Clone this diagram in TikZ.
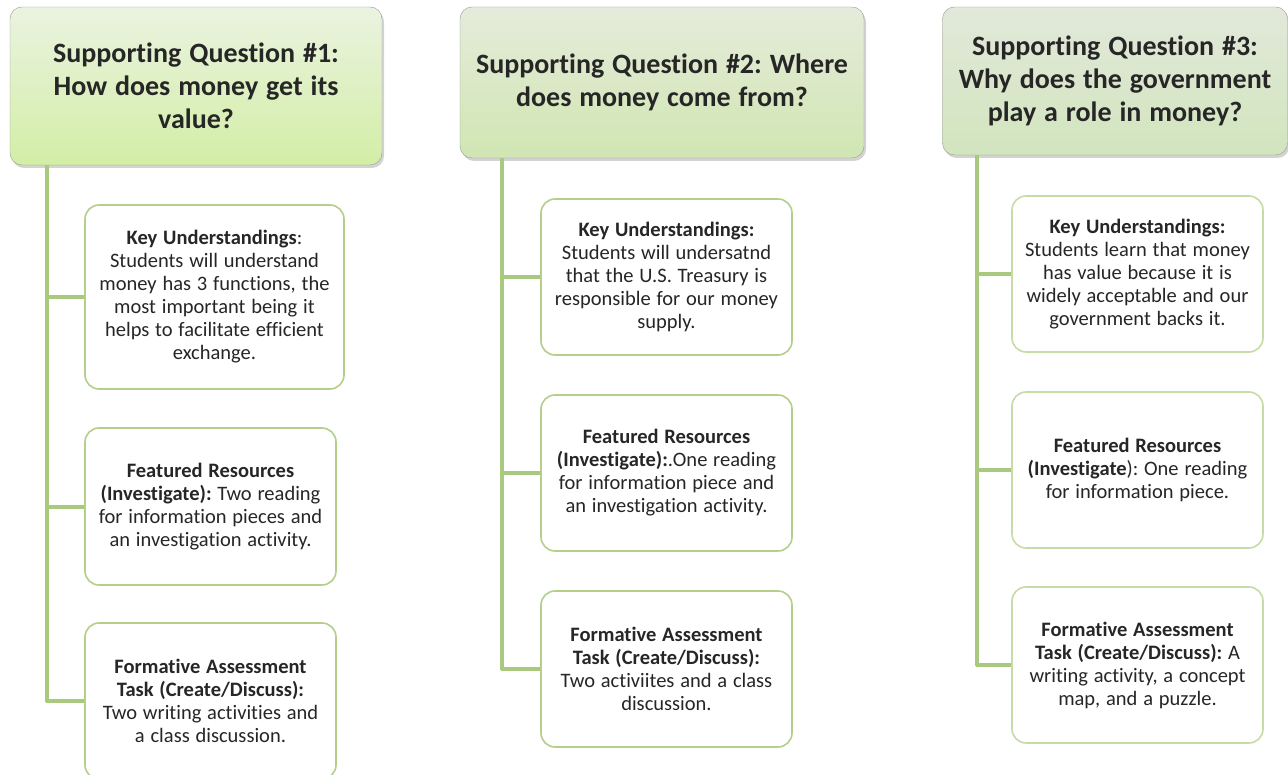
\documentclass[tikz,border=0pt]{standalone}
\usepackage{fontspec}
\setmainfont{Carlito}[Ligatures=NoCommon, WordSpace=1.25]
\usepackage{tikz}
\usetikzlibrary{shadows}
\definecolor{linkgreen}{HTML}{A9C97E}
\definecolor{boxgreen}{HTML}{B3CF8A}
\definecolor{inkgray}{HTML}{262626}
\definecolor{qonetop}{HTML}{EAF3E0}
\definecolor{qonebot}{HTML}{D3EEA6}
\definecolor{qtwotop}{HTML}{E5EBDB}
\definecolor{qtwobot}{HTML}{D0E6B2}
\definecolor{qthreetop}{HTML}{E2E8DA}
\definecolor{qthreebot}{HTML}{D2E5BE}
\frenchspacing

\begin{document}
\begin{tikzpicture}[x=1pt, y=-1pt,
    question/.style={draw=gray!80, rounded corners=12pt, align=center, inner sep=0pt,
        text=inkgray, font=\fontsize{28}{33}\selectfont\bfseries,
        drop shadow={shadow xshift=2pt, shadow yshift=-3pt, opacity=0.35}},
    task/.style={draw=boxgreen, line width=1.6pt, rounded corners=14pt, fill=white,
        align=center, inner sep=0pt, minimum width=251pt, minimum height=156pt,
        text=inkgray, font=\fontsize{20.5}{23}\selectfont},
    link/.style={linkgreen, line width=4pt, line join=round}]
    \useasboundingbox (0,0) rectangle (1288,775);
    % Question 1
    \node[question, top color=qonetop, bottom color=qonebot,
        minimum width=372pt, minimum height=158pt] (q1) at (196,86)
        {Supporting Question \#1:\\How does money get its\\value?};
    \coordinate (s1) at (47,165);
    \node[task, minimum width=259pt, minimum height=184pt] (k1) at (214.5,297)
        {\textbf{Key Understandings}:\\Students will understand\\money has 3 functions, the\\most important being it\\helps to facilitate efficient\\exchange.};
    \node[task, minimum height=157pt] (f1) at (210.5,506.5)
        {\textbf{Featured Resources}\\\textbf{(Investigate):} Two reading\\for information pieces and\\an investigation activity.};
    \node[task] (t1) at (210.5,701)
        {\textbf{Formative Assessment}\\\textbf{Task (Create/Discuss):}\\Two writing activities and\\a class discussion.};
    \draw[link] (s1) |- (k1.west);
    \draw[link] (s1) |- (f1.west);
    \draw[link] (s1) |- (t1.west);
    % Question 2
    \node[question, top color=qtwotop, bottom color=qtwobot,
        minimum width=404pt, minimum height=151pt] (q2) at (662,82.5)
        {Supporting Question \#2: Where\\does money come from?};
    \coordinate (s2) at (502,158);
    \node[task] (k2) at (666.5,277)
        {\textbf{Key Understandings:}\\Students will undersatnd\\that the U.S. Treasury is\\responsible for our money\\supply.};
    \node[task] (f2) at (666.5,473)
        {\textbf{Featured Resources}\\\textbf{(Investigate):}.One reading\\for information piece and\\an investigation activity.};
    \node[task] (t2) at (666.5,669)
        {\textbf{Formative Assessment}\\\textbf{Task (Create/Discuss):}\\Two activiites and a class\\discussion.};
    \draw[link] (s2) |- (k2.west);
    \draw[link] (s2) |- (f2.west);
    \draw[link] (s2) |- (t2.west);
    % Question 3
    \node[question, top color=qthreetop, bottom color=qthreebot,
        minimum width=345pt, minimum height=148pt] (q3) at (1115,81)
        {Supporting Question \#3:\\Why does the government\\play a role in money?};
    \coordinate (s3) at (977,155);
    \node[task, draw=boxgreen!75] (k3) at (1137.5,274)
        {\textbf{Key Understandings:}\\Students learn that money\\has value because it is\\widely acceptable and our\\government backs it.};
    \node[task, draw=boxgreen!75] (f3) at (1137.5,470)
        {\textbf{Featured Resources}\\\textbf{(Investigate}): One reading\\for information piece.};
    \node[task, draw=boxgreen!75] (t3) at (1137.5,665)
        {\textbf{Formative Assessment}\\\textbf{Task (Create/Discuss):} A\\writing activity, a concept\\map, and a puzzle.};
    \draw[link] (s3) |- (k3.west);
    \draw[link] (s3) |- (f3.west);
    \draw[link] (s3) |- (t3.west);
\end{tikzpicture}
\end{document}
